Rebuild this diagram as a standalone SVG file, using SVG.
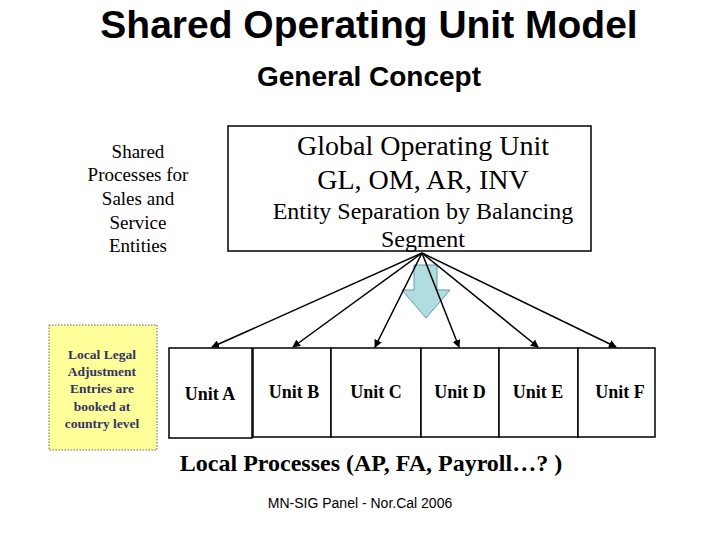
<svg xmlns="http://www.w3.org/2000/svg" width="720" height="540" viewBox="0 0 720 540">
<style>
.t{font-family:"Liberation Serif",serif;fill:#000}
.u{font-family:"Liberation Serif",serif;font-weight:bold;font-size:18px;text-anchor:middle}
.box{fill:#fff;stroke:#000;stroke-width:1.5}
.c line{stroke:#000;stroke-width:1.5;marker-end:url(#ah)}
</style>
<defs><marker id="ah" markerWidth="8" markerHeight="8" refX="7" refY="4" orient="auto" markerUnits="userSpaceOnUse"><path d="M0,0L8,4L0,8z" fill="#000"/></marker></defs>
<rect width="720" height="540" fill="#fff"/>
<text x="369" y="38" font-family="Liberation Sans,sans-serif" font-size="39" font-weight="bold" text-anchor="middle">Shared Operating Unit Model</text>
<text x="369" y="86" font-family="Liberation Sans,sans-serif" font-size="28" font-weight="bold" text-anchor="middle">General Concept</text>
<g id="shared" class="t" font-size="19" text-anchor="middle">
<text x="138" y="158">Shared</text><text x="138" y="181">Processes for</text><text x="138" y="205">Sales and</text><text x="138" y="229">Service</text><text x="138" y="252">Entities</text>
</g>
<g id="global">
<rect class="box" x="228" y="126" width="363" height="125"/>
<text class="t" x="423" y="155" font-size="28" text-anchor="middle">Global Operating Unit</text>
<text class="t" x="423" y="189" font-size="28" text-anchor="middle">GL, OM, AR, INV</text>
<text class="t" x="423" y="219" font-size="24" text-anchor="middle">Entity Separation by Balancing</text>
<text class="t" x="423" y="247" font-size="24" text-anchor="middle">Segment</text>
</g>
<g id="local-legal">
<rect x="49" y="325" width="108" height="125" fill="#ffff99" stroke="#666" stroke-dasharray="1.5,1.5"/>
<g font-family="Liberation Serif,serif" font-weight="bold" font-size="13.5" fill="#333366" text-anchor="middle">
<text x="102" y="359">Local Legal</text><text x="102" y="376">Adjustment</text><text x="102" y="393">Entries are</text><text x="102" y="411">booked at</text><text x="102" y="428">country level</text>
</g>
</g>
<g id="unitA"><rect class="box" x="169" y="348" width="83" height="90"/><text class="u" x="210" y="400">Unit A</text></g>
<g id="unitB"><rect class="box" x="253" y="348" width="78" height="89"/><text class="u" x="294" y="398">Unit B</text></g>
<g id="unitC"><rect class="box" x="331" y="348" width="90" height="89"/><text class="u" x="376" y="398">Unit C</text></g>
<g id="unitD"><rect class="box" x="421" y="348" width="78" height="89"/><text class="u" x="460" y="398">Unit D</text></g>
<g id="unitE"><rect class="box" x="499" y="348" width="79" height="89"/><text class="u" x="538" y="398">Unit E</text></g>
<g id="unitF"><rect class="box" x="578" y="348" width="77" height="89"/><text class="u" x="620" y="398">Unit F</text></g>
<g id="blockarrow"><path d="M414,265H437V290H450L426,318L402,290H414Z" fill="#b0dde0" stroke="#6699aa" stroke-width="1"/></g>
<g class="c" id="connectors">
<line x1="422" y1="253" x2="212" y2="347"/>
<line x1="422" y1="253" x2="293" y2="347"/>
<line x1="422" y1="253" x2="375" y2="347"/>
<line x1="422" y1="253" x2="459" y2="347"/>
<line x1="422" y1="253" x2="538" y2="347"/>
<line x1="422" y1="253" x2="616" y2="347"/>
</g>
<text class="t" x="371" y="471" font-size="24" font-weight="bold" text-anchor="middle">Local Processes (AP, FA, Payroll…? )</text>
<text x="360" y="508" font-family="Liberation Sans,sans-serif" font-size="14" text-anchor="middle">MN-SIG Panel - Nor.Cal 2006</text>
</svg>
